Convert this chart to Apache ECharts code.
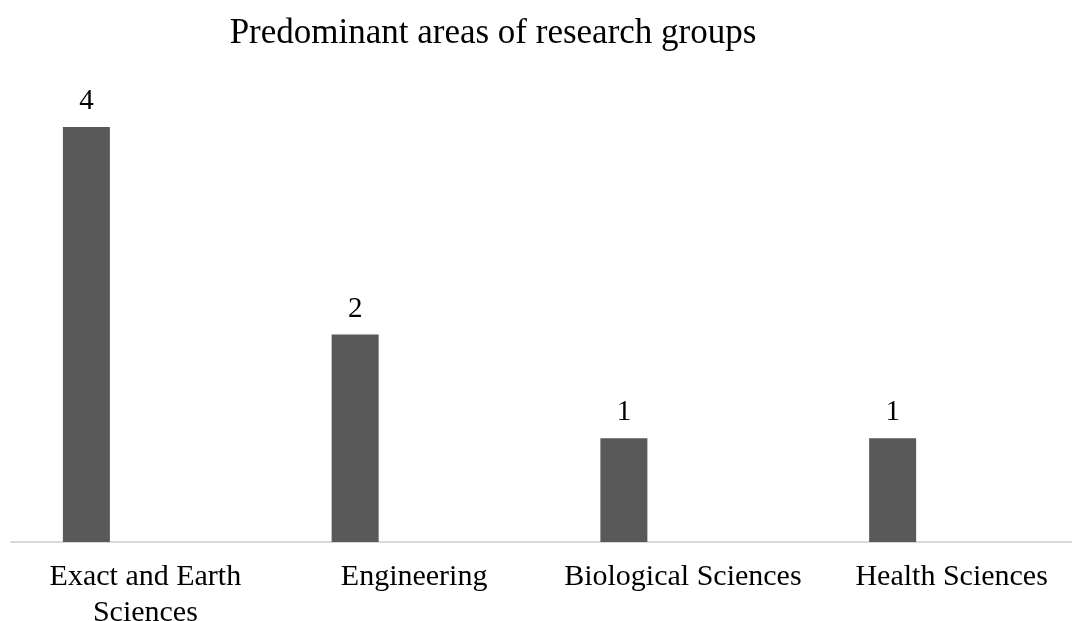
<!DOCTYPE html>
<html>
<head>
<meta charset="utf-8">
<script src="https://cdn.jsdelivr.net/npm/echarts@6/dist/echarts.min.js"></script>
<style>html,body{margin:0;padding:0;background:#fff;overflow:hidden}#wrap{position:absolute;left:0;top:0;width:1072px;height:621px;overflow:hidden}#chart{width:1086px;height:621px}</style>
</head>
<body>
<div id="wrap"><div id="chart"></div></div>
<script>
const categories = ['Exact and Earth\nSciences', 'Engineering', 'Biological Sciences', 'Health Sciences'];
const groupCounts = [4, 2, 1, 1];
const emptySeries = [null, null, null, null];
const chartTitle = 'Predominant areas of research groups';

const chart = echarts.init(document.getElementById('chart'));
const serif = '"Liberation Serif", "Times New Roman", serif';
chart.setOption({
  animation: false,
  backgroundColor: '#ffffff',
  title: {
    text: chartTitle,
    left: 488, top: 11, textAlign: 'center',
    textStyle: { fontFamily: serif, fontSize: 35, fontWeight: 'normal', color: '#000' }
  },
  grid: { left: 11, right: 0, top: 127, bottom: 79, containLabel: false, outerBoundsMode: 'none' },
  xAxis: {
    type: 'category',
    data: categories,
    axisLine: { lineStyle: { color: '#d9d9d9', width: 2 } },
    axisTick: { show: false },
    axisLabel: { fontFamily: serif, fontSize: 30, color: '#000', margin: 17, lineHeight: 36, interval: 0 }
  },
  yAxis: { type: 'value', min: 0, max: 4, show: false, splitLine: { show: false } },
  series: [
    {
      type: 'bar', data: groupCounts, barWidth: 47, barGap: '151%',
      itemStyle: { color: '#595959' },
      label: { show: true, position: 'top', distance: 11, fontFamily: serif, fontSize: 29, color: '#000' }
    },
    { type: 'bar', data: emptySeries, barWidth: 47, itemStyle: { color: 'transparent' } }
  ]
});
</script>
</body>
</html>
